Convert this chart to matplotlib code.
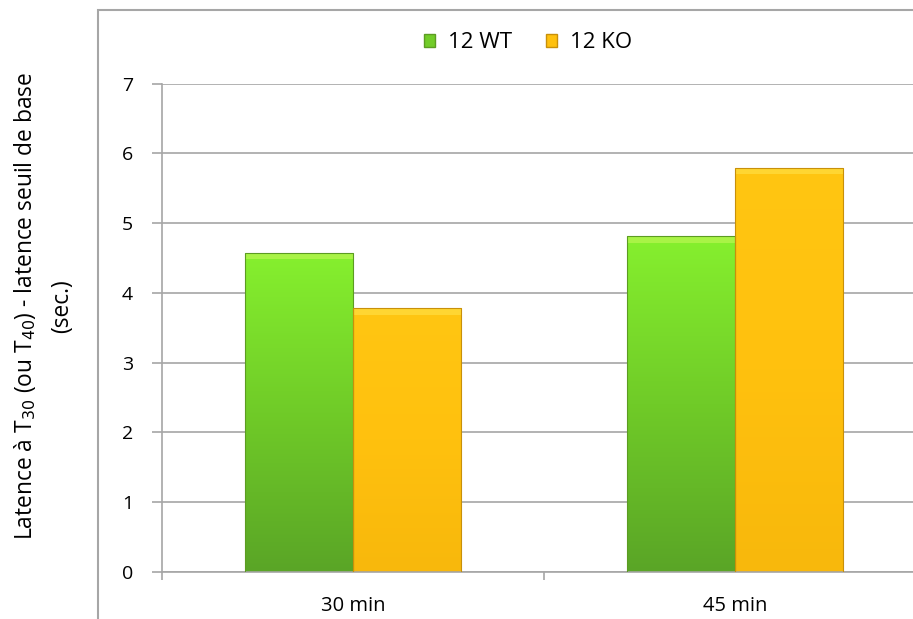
import matplotlib.pyplot as plt
import numpy as np
from matplotlib.patches import Rectangle, Patch
from matplotlib.colors import LinearSegmentedColormap

# data
categories = ['30 min', '45 min']
series = ['12 WT', '12 KO']
wt_values = [4.57, 4.81]
ko_values = [3.78, 5.79]

plt.rcParams['font.family'] = ['Open Sans', 'DejaVu Sans']

W, H = 913, 619
fig = plt.figure(figsize=(W / 100, H / 100), dpi=100)

# outer chart frame (cut off at right and bottom like the original)
fig.patches.append(Rectangle((98 / W, -0.05), 1.0, (H - 10) / H + 0.05,
                             transform=fig.transFigure, fill=False,
                             edgecolor='#a6a6a6', linewidth=1.5))

x0, x1 = 162, 926
y0, y1 = 572, 83.7
ax = fig.add_axes([x0 / W, (H - y0) / H, (x1 - x0) / W, (y0 - y1) / H])

green = LinearSegmentedColormap.from_list('g', ['#5aa526', '#70cb28', '#86f02e'])
orange = LinearSegmentedColormap.from_list('o', ['#f8b80c', '#ffc10e', '#ffc612'])
edges = ['#5c9c22', '#c8900a']

x = np.arange(len(categories))
w = 0.283
grad = np.linspace(0, 1, 256).reshape(-1, 1)
for vals, off, cmap, ec in [(wt_values, -w / 2, green, edges[0]),
                            (ko_values, w / 2, orange, edges[1])]:
    bars = ax.bar(x + off, vals, width=w, color='none', edgecolor=ec,
                  linewidth=0.8, zorder=3)
    for b in bars:
        bx, by = b.get_x(), b.get_y()
        bw, bh = b.get_width(), b.get_height()
        im = ax.imshow(grad, cmap=cmap, origin='lower', aspect='auto',
                       extent=[bx, bx + bw, by, by + bh], zorder=2)
        im.set_clip_path(b)
        # lighter top bevel
        ax.add_patch(Rectangle((bx, by + bh - 0.09), bw, 0.09,
                               color='#ffff80', alpha=0.3, lw=0, zorder=2.5))
ax.set_xlim(-0.5, 1.5)
ax.set_ylim(0, 7)

ax.set_yticks(range(0, 8))
ax.yaxis.grid(True, color='#a6a6a6', linewidth=1.2)
ax.set_axisbelow(True)
ax.set_xticks([-0.5, 0.5, 1.5])
ax.set_xticklabels([])
ax.set_xticks(x, minor=True)
ax.set_xticklabels(categories, minor=True, fontsize=14.5)
ax.tick_params(axis='x', which='minor', length=0, pad=17)
ax.tick_params(axis='x', which='major', length=6, color='#a6a6a6', width=1.2)
ax.tick_params(axis='y', length=7, color='#a6a6a6', width=1.2, labelsize=14, pad=14)
for s in ['top', 'right']:
    ax.spines[s].set_visible(False)
for s in ['left', 'bottom']:
    ax.spines[s].set_color('#a6a6a6')
    ax.spines[s].set_linewidth(1.2)

ax.set_ylabel('Latence à T$_{30}$ (ou T$_{40}$) - latence seuil de base\n(sec.)',
              fontsize=16.4, linespacing=1.65)
ax.yaxis.set_label_coords((74 - x0) / (x1 - x0), (y0 - 306) / (y0 - y1))

handles = [Patch(facecolor='#72cc28', edgecolor=edges[0]),
           Patch(facecolor='#ffc10e', edgecolor=edges[1])]
fig.legend(handles, series, loc='center', bbox_to_anchor=(528 / W, 1 - 43 / H),
           ncol=2, frameon=False, fontsize=16, handlelength=0.5, handleheight=0.5,
           handletextpad=0.6, columnspacing=1.5)

fig.savefig('out.png', dpi=100)
